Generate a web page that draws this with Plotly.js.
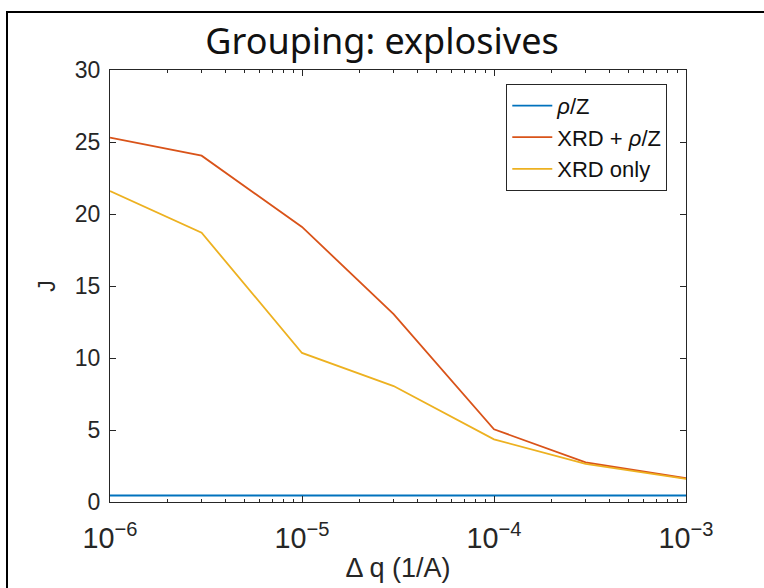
<!DOCTYPE html>
<html>
<head>
<meta charset="utf-8">
<script src="https://cdn.plot.ly/plotly-3.0.1.min.js"></script>
<style>
  html, body { margin: 0; padding: 0; background: #fff; }
  #wrap { position: relative; width: 764px; height: 588px; }
  #chart { width: 764px; height: 588px; }
  #frame { position: absolute; left: 6px; top: 11px; width: 800px; height: 600px;
           border-top: 2px solid #000; border-left: 2px solid #000; pointer-events: none; }
</style>
</head>
<body>
<div id="wrap">
  <div id="chart"></div>
  <div id="frame"></div>
</div>
<script>
const deltaQ = [1e-6, 3e-6, 1e-5, 3e-5, 1e-4, 3e-4, 1e-3];
const rhoZ = [0.45, 0.45, 0.45, 0.45, 0.45, 0.45, 0.45];
const xrdRhoZ = [25.3, 24.05, 19.1, 13.05, 5.05, 2.75, 1.65];
const xrdOnly = [21.6, 18.7, 10.35, 8.05, 4.35, 2.65, 1.6];
const seriesNames = ['<i>ρ</i>/Z', 'XRD + <i>ρ</i>/Z', 'XRD only'];
const yTicks = [0, 5, 10, 15, 20, 25, 30];

const colors = ['#0072BD', '#D95319', '#EDB120'];
const seriesData = [rhoZ, xrdRhoZ, xrdOnly];

const traces = seriesData.map((ys, i) => ({
  x: deltaQ, y: ys, type: 'scatter', mode: 'lines', name: seriesNames[i],
  line: { color: colors[i], width: 1.8 }
}));

const axisFont = { family: 'Liberation Sans, Arial, sans-serif', size: 23, color: '#262626' };

const layout = {
  width: 764, height: 588,
  margin: { l: 110, r: 78, t: 70, b: 86 },
  paper_bgcolor: '#fff', plot_bgcolor: '#fff',
  title: { text: 'Grouping: explosives', x: 0.5, xanchor: 'center', y: 0.93, yanchor: 'middle',
           font: { family: 'Noto Sans, Open Sans, sans-serif', size: 36, color: '#111' } },
  xaxis: {
    type: 'log', range: [-6, -3], dtick: 1, exponentformat: 'power',
    showgrid: false, zeroline: false, showline: true, linecolor: '#262626', linewidth: 1,
    mirror: 'allticks', ticks: 'inside', ticklen: 6, tickcolor: '#262626',
    minor: { ticks: 'inside', ticklen: 3, tickcolor: '#262626', showgrid: false },
    tickfont: axisFont, ticklabelstandoff: 12,
    title: { text: 'Δ q (1/A)', font: { family: 'Liberation Sans, Arial, sans-serif', size: 27, color: '#262626' }, standoff: 4 }
  },
  yaxis: {
    range: [0, 30], tickvals: yTicks,
    showgrid: false, zeroline: false, showline: true, linecolor: '#262626', linewidth: 1,
    mirror: 'allticks', ticks: 'inside', ticklen: 6, tickcolor: '#262626',
    tickfont: axisFont, ticklabelstandoff: 4,
    title: { text: 'J', font: axisFont, standoff: 12 }
  },
  legend: {
    x: 0.688, xanchor: 'left', y: 0.968, yanchor: 'top',
    bgcolor: '#fff', bordercolor: '#262626', borderwidth: 1,
    font: { family: 'Liberation Sans, Arial, sans-serif', size: 22, color: '#111' },
    tracegroupgap: 0, itemwidth: 40
  },
  showlegend: true
};

Plotly.newPlot('chart', traces, layout, { staticPlot: true, displayModeBar: false });
</script>
</body>
</html>
